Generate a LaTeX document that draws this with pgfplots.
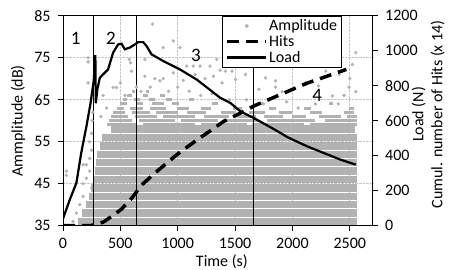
\documentclass[border=0pt]{standalone}
\usepackage{pgfplots}
\pgfplotsset{compat=1.18}
\usepackage{pgfplotstable}
\usepackage{fontspec}
\setmainfont{Carlito}

% dense amplitude rows (time span of nearly continuous hits at each amplitude level)
\pgfplotstableread{
x y
130 36
2560 36
nan nan
170 38
2560 38
nan nan
200 40
2560 40
nan nan
225 42
2560 42
nan nan
245 44
2560 44
nan nan
265 46
2560 46
nan nan
280 48
2560 48
nan nan
290 50
2560 50
nan nan
300 52
2560 52
nan nan
320 54
2560 54
nan nan
340 56
2560 56
nan nan
420 58
2550 58
}\dense

% semi-dense clusters of hits
\pgfplotstableread{
x y
380 59
640 59
nan nan
700 59
1150 59
nan nan
1200 59
1600 59
nan nan
1650 59
2100 59
nan nan
2150 59
2560 59
nan nan
400 60
600 60
nan nan
660 60
980 60
nan nan
1030 60
1350 60
nan nan
1400 60
1700 60
nan nan
1780 60
2200 60
nan nan
2280 60
2560 60
nan nan
420 61
570 61
nan nan
630 61
820 61
nan nan
870 61
1150 61
nan nan
1230 61
1450 61
nan nan
1520 61
1680 61
nan nan
1750 61
1920 61
nan nan
2000 61
2120 61
nan nan
2230 61
2420 61
nan nan
2480 61
2560 61
nan nan
440 62
540 62
nan nan
600 62
760 62
nan nan
810 62
1000 62
nan nan
1080 62
1250 62
nan nan
1380 62
1500 62
nan nan
1620 62
1760 62
nan nan
1880 62
2000 62
nan nan
2150 62
2260 62
nan nan
2450 62
2540 62
nan nan
470 63
530 63
nan nan
580 63
700 63
nan nan
760 63
900 63
nan nan
990 63
1100 63
nan nan
1200 63
1290 63
nan nan
1480 63
1560 63
nan nan
1800 63
1860 63
nan nan
2100 63
2160 63
nan nan
2490 63
2540 63
nan nan
500 64
560 64
nan nan
640 64
700 64
nan nan
780 64
880 64
nan nan
950 64
1010 64
nan nan
1300 64
1350 64
nan nan
1700 64
1740 64
nan nan
2320 64
2350 64
nan nan
520 65
560 65
nan nan
620 65
670 65
nan nan
750 65
800 65
nan nan
900 65
950 65
nan nan
1100 65
1140 65
nan nan
560 66
600 66
nan nan
700 66
740 66
nan nan
850 66
890 66
nan nan
600 67
630 67
nan nan
720 67
750 67
}\semi

% isolated hits
\pgfplotstableread{
x y
30 48
30 47
87 36
117 38
146 40
146 36.5
175 42
175 45
175 49.5
204 46.3
204 49.5
233 48
233 51
248 53
230 55
250 57
219 69
219 74
219 75
255 60
260 62
250 44
215 40
190 38
781 83
962 79
1020 77.4
874 77.4
577 74.6
590 73.8
714 74.6
1078 73
1136 73
1195 73
1282 73
1340 74.6
597 71.8
437 67.9
466 67.9
714 70.6
801 70
845 69.5
874 70
962 71.4
1049 69.6
1151 71
1238 70
1311 70.6
1370 72
2552 76.2
2523 73.4
1416 71.8
1474 71.8
1591 71
1766 70.2
1853 69.5
2290 71.8
2407 71
2111 69
2227 68.3
2494 68
2552 66.9
2349 65.9
1853 68
1911 66.9
1708 67.5
1387 69
1504 69.8
500 69
540 66
640 68
680 67
760 68
920 67
1000 68
1100 67
1200 66
1300 66.5
1450 65
1600 65
1750 64
1950 64.5
2050 63
2200 64
2400 64
2450 66
2500 70
350 66
380 63
330 61
}\sparse

\pgfplotstableread{
x y
0 0
240 0
350 20
440 60
510 95
590 150
690 235
800 300
900 355
1000 410
1170 491
1290 545
1400 596
1576 653
1664 684
1897 750
2130 815
2470 893
}\hits

\pgfplotstableread{
x y
0 40
60 150
117 245
160 420
205 570
240 700
268 828
282 975
286 700
300 780
321 845
350 865
393 893
437 989
481 1036
510 1040
539 1008
583 1018
627 1036
656 1049
699 1049
728 1027
772 979
874 941
1020 893
1168 834
1370 731
1460 701
1547 653
1664 615
1838 552
1960 505
2130 453
2421 377
2552 349
}\load

\begin{document}
\begin{tikzpicture}[font=\fontsize{16bp}{19bp}\selectfont]
\path[use as bounding box] (-63bp,-44.3bp) rectangle (392bp,225.7bp);
\begin{axis}[
  scale only axis, width=309.7bp, height=210bp,
  xmin=0, xmax=2700, ymin=35, ymax=85,
  xtick={0,500,1000,1500,2000,2500},
  ytick={35,45,55,65,75,85},
  xtick pos=left, ytick pos=left, tick align=outside,
  major tick length=5bp,
  /pgf/number format/assume math mode=true,
  /pgf/number format/1000 sep={},
  xmajorgrids, ymajorgrids,
  grid style={densely dotted, gray!45, line width=0.7bp},
  axis line style={line width=0.8bp},
  tick style={black, line width=0.8bp},
  xticklabel style={yshift=-4bp},
  yticklabel style={xshift=-4bp},
  ylabel={Ammplitude (dB)}, xlabel={Time (s)},
  ylabel style={at={(axis description cs:-0.145,0.5)}, anchor=center},
  xlabel style={at={(axis description cs:0.513,-0.174)}, anchor=center},
  unbounded coords=jump,
]
\addplot[gray!60, line width=7.3bp] table {\dense};
\addplot[gray!60, line width=3bp] table {\semi};
\addplot[only marks, mark=*, mark size=1.5bp, mark options={draw=gray!60, fill=gray!60}] table {\sparse};
\addplot[black, line width=0.8bp] coordinates {(268,35) (268,85)};
\addplot[black, line width=0.8bp] coordinates {(643,35) (643,85)};
\addplot[black, line width=0.8bp] coordinates {(1664,35) (1664,85)};
\node at (axis cs:111,79.5) {\fontsize{19bp}{19bp}\selectfont 1};
\node at (axis cs:417,79.5) {\fontsize{19bp}{19bp}\selectfont 2};
\node at (axis cs:1160,75.6) {\fontsize{19bp}{19bp}\selectfont 3};
\node at (axis cs:2217,66) {\fontsize{19bp}{19bp}\selectfont 4};
\end{axis}
\begin{axis}[
  scale only axis, width=309.7bp, height=210bp,
  xmin=0, xmax=2700, ymin=0, ymax=1200,
  axis x line=none, axis y line*=right,
  ytick={0,200,400,600,800,1000,1200},
  tick align=outside, major tick length=5bp,
  /pgf/number format/assume math mode=true,
  /pgf/number format/1000 sep={},
  axis line style={line width=0.8bp},
  tick style={black, line width=0.8bp},
  yticklabel style={xshift=4bp},
  ylabel={Load (N)\\Cumul. number of Hits (x 14)},
  ylabel style={align=center, at={(axis description cs:1.179,0.53)}, anchor=center},
  legend image code/.code={\draw[mark repeat=2,mark phase=2,#1] plot coordinates {(0cm,0cm) (0.68cm,0cm) (1.36cm,0cm)};},
  legend style={at={(axis description cs:0.901,1)}, anchor=north east,
    draw=black, line width=0.8bp, fill=white,
    font=\fontsize{16bp}{16bp}\selectfont,
    nodes={inner ysep=1.6bp, inner xsep=1.5bp},
    row sep=0bp, cells={anchor=west}},
]
\addlegendimage{only marks, mark=*, mark size=1.5bp, mark options={draw=gray!60, fill=gray!60}}
\addplot[black, line width=3.5bp, dash pattern=on 12bp off 7bp] table {\hits};
\addplot[black, line width=2.2bp] table {\load};
\legend{Amplitude, Hits, Load}
\end{axis}
\end{tikzpicture}
\end{document}
